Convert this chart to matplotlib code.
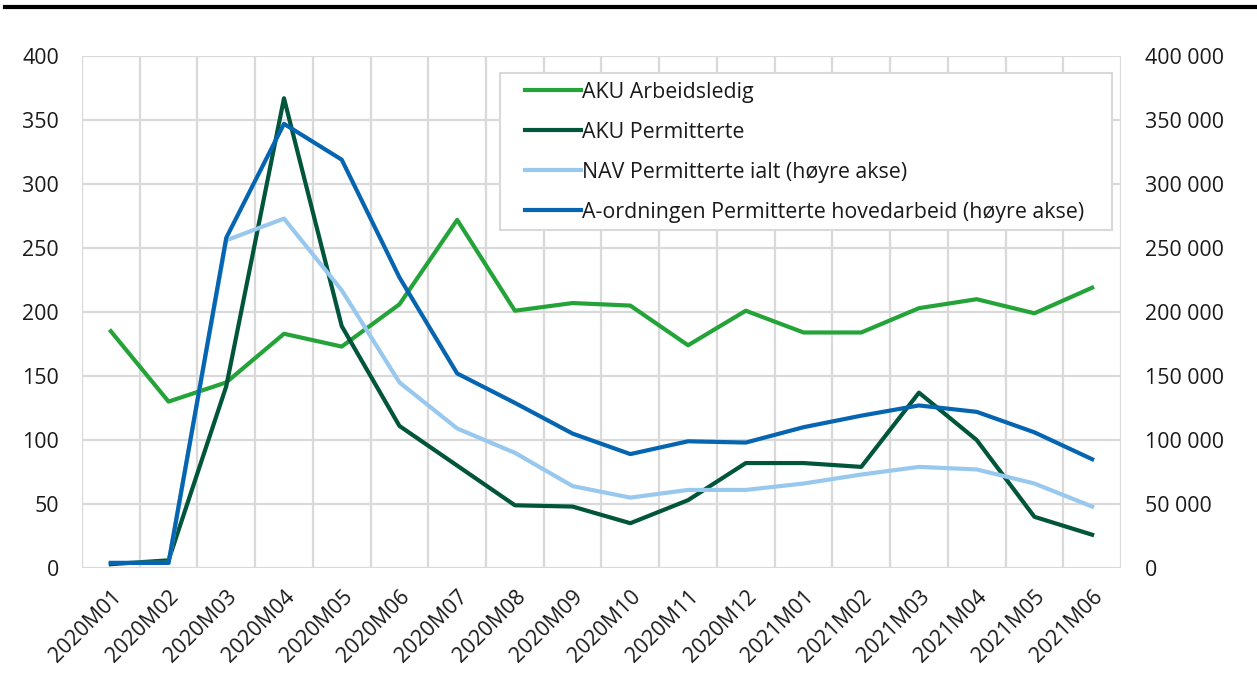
import numpy as np
import matplotlib.pyplot as plt
from matplotlib.lines import Line2D
from matplotlib.patches import Rectangle
from matplotlib.ticker import FuncFormatter, MultipleLocator

plt.rcParams['font.family'] = ['Open Sans', 'DejaVu Sans']

# Måneder
maaneder = ["2020M01", "2020M02", "2020M03", "2020M04", "2020M05", "2020M06",
            "2020M07", "2020M08", "2020M09", "2020M10", "2020M11", "2020M12",
            "2021M01", "2021M02", "2021M03", "2021M04", "2021M05", "2021M06"]

# Venstre akse (tusen)
aku_arbeidsledig = [185, 130, 145, 183, 173, 206, 272, 201, 207, 205, 174, 201,
                    184, 184, 203, 210, 199, 219]
aku_permitterte = [3, 6, 142, 367, 189, 111, 80, 49, 48, 35, 53, 82,
                   82, 79, 137, 100, 40, 26]

# Høyre akse (personer)
nav_permitterte = [4000, 4000, 256000, 273000, 217000, 145000, 109000, 90000, 64000,
                   55000, 61000, 61000, 66000, 73000, 79000, 77000, 66000, 48000]
a_ordningen = [4000, 4000, 258000, 347000, 319000, 227000, 152000, 129000, 105000,
               89000, 99000, 98000, 110000, 119000, 127000, 122000, 106000, 85000]

farge_gronn = '#24a339'
farge_mork = '#00553b'
farge_lys = '#98c8ee'
farge_bla = '#0665b1'
grid_farge = '#d9d9d9'
tekst_farge = '#1a1a1a'
fs = 15.4

fig = plt.figure(figsize=(12.57, 6.73), dpi=100)
ax = fig.add_axes([0.0652, 0.156, 0.8266, 0.7608])
ax2 = ax.twinx()

x = np.arange(len(maaneder))
l1, = ax.plot(x, aku_arbeidsledig, color=farge_gronn, lw=3, label="AKU Arbeidsledig")
l2, = ax.plot(x, aku_permitterte, color=farge_mork, lw=3, label="AKU Permitterte")
l3, = ax2.plot(x, nav_permitterte, color=farge_lys, lw=3, label="NAV Permitterte ialt (høyre akse)")
l4, = ax2.plot(x, a_ordningen, color=farge_bla, lw=3,
               label="A-ordningen Permitterte hovedarbeid (høyre akse)")

ax.set_xlim(-0.5, len(maaneder) - 0.5)
ax.set_ylim(0, 400)
ax2.set_ylim(0, 400000)
ax.yaxis.set_major_locator(MultipleLocator(50))
ax2.yaxis.set_major_locator(MultipleLocator(50000))
ax2.yaxis.set_major_formatter(FuncFormatter(lambda v, p: f"{int(v):,}".replace(",", " ")))

ax.set_xticks(x)
ax.set_xticklabels(maaneder, rotation=45, ha='right', rotation_mode='anchor')
ax.set_xticks(np.arange(-0.5, len(maaneder)), minor=True)
ax.grid(True, which='minor', axis='x', color=grid_farge, lw=1.6)
ax.grid(True, which='major', axis='y', color=grid_farge, lw=1.6)
ax.set_axisbelow(True)

for a in (ax, ax2):
    for s in a.spines.values():
        s.set_visible(False)
    a.tick_params(which='both', length=0, labelsize=fs, colors=tekst_farge)
ax.tick_params(axis='y', pad=16.5)
ax.tick_params(axis='x', pad=13)
ax2.tick_params(axis='y', pad=17.5)

# Legende med egen ramme
ramme = Rectangle((0.4023, 0.660), 0.991 - 0.4023, 0.9668 - 0.660,
                  transform=ax2.transAxes, facecolor='white',
                  edgecolor=grid_farge, lw=1.5, zorder=4)
ax2.add_patch(ramme)
leg = ax2.legend(handles=[l1, l2, l3, l4], loc='upper left',
                 bbox_to_anchor=(0.4264, 0.950), fontsize=fs, frameon=False,
                 handlelength=2.6, handletextpad=0.05, labelspacing=0.89,
                 borderpad=0, borderaxespad=0)
leg.set_zorder(5)
for t in leg.get_texts():
    t.set_color(tekst_farge)

fig.add_artist(Line2D([0.004, 1.0], [0.9896, 0.9896], color='black', lw=3))

fig.savefig("out.png", dpi=100)
